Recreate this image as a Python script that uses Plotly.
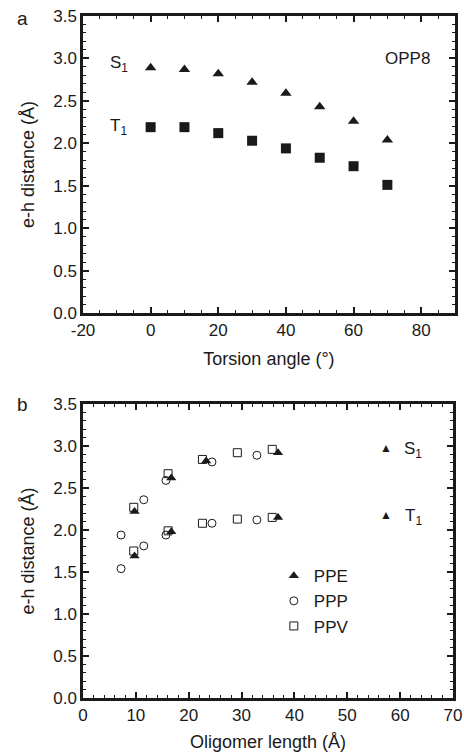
import plotly.graph_objects as go

# ---- Panel a data (OPP8) ----
torsion = [0, 10, 20, 30, 40, 50, 60, 70]
opp8_s1 = [2.89, 2.87, 2.82, 2.72, 2.59, 2.43, 2.26, 2.04]
opp8_t1 = [2.19, 2.19, 2.12, 2.03, 1.94, 1.83, 1.73, 1.51]
torsion_ticks = [-20, 0, 20, 40, 60, 80]
torsion_ticktext = ["-20", "0", "20", "40", "60", "80"]

# ---- Panel b data ----
ppe_len_s1 = [9.75, 16.7, 23.3, 36.9]
ppe_s1 = [2.22, 2.62, 2.82, 2.92]
ppe_len_t1 = [9.75, 16.7, 36.9]
ppe_t1 = [1.69, 1.98, 2.15]

ppp_len = [7.2, 11.5, 15.7, 24.4, 32.9]
ppp_s1 = [1.94, 2.36, 2.59, 2.81, 2.89]
ppp_t1 = [1.54, 1.81, 1.94, 2.08, 2.12]

ppv_len = [9.6, 16.1, 22.6, 29.2, 35.8]
ppv_s1 = [2.27, 2.67, 2.84, 2.92, 2.96]
ppv_t1 = [1.75, 1.99, 2.08, 2.13, 2.15]

FONT = "Liberation Sans, Arial, Helvetica, sans-serif"
INK = "#1a1a1a"

fig = go.Figure()

# Panel a
fig.add_trace(go.Scatter(x=torsion, y=opp8_s1, mode="markers", xaxis="x", yaxis="y",
                         marker=dict(symbol="triangle-up", size=10, color=INK),
                         showlegend=False))
fig.add_trace(go.Scatter(x=torsion, y=opp8_t1, mode="markers", xaxis="x", yaxis="y",
                         marker=dict(symbol="square", size=10, color=INK),
                         showlegend=False))

# Panel b
open_line = dict(color=INK, width=1)
fig.add_trace(go.Scatter(x=ppv_len, y=ppv_s1, mode="markers", xaxis="x2", yaxis="y2",
                         marker=dict(symbol="square-open", size=8, color=INK, line=open_line),
                         showlegend=False, legendgroup="PPV"))
fig.add_trace(go.Scatter(x=ppv_len, y=ppv_t1, mode="markers", xaxis="x2", yaxis="y2",
                         marker=dict(symbol="square-open", size=8, color=INK, line=open_line),
                         showlegend=False, legendgroup="PPV"))
fig.add_trace(go.Scatter(x=ppp_len, y=ppp_s1, mode="markers", xaxis="x2", yaxis="y2",
                         marker=dict(symbol="circle-open", size=8, color=INK, line=open_line),
                         showlegend=False, legendgroup="PPP"))
fig.add_trace(go.Scatter(x=ppp_len, y=ppp_t1, mode="markers", xaxis="x2", yaxis="y2",
                         marker=dict(symbol="circle-open", size=8, color=INK, line=open_line),
                         showlegend=False, legendgroup="PPP"))
fig.add_trace(go.Scatter(x=ppe_len_s1, y=ppe_s1, mode="markers", xaxis="x2", yaxis="y2",
                         marker=dict(symbol="triangle-up", size=9, color=INK),
                         name="PPE", legendgroup="PPE", legendrank=1))
fig.add_trace(go.Scatter(x=ppe_len_t1, y=ppe_t1, mode="markers", xaxis="x2", yaxis="y2",
                         marker=dict(symbol="triangle-up", size=9, color=INK),
                         showlegend=False, legendgroup="PPE"))
fig.add_trace(go.Scatter(x=[None], y=[None], mode="markers", xaxis="x2", yaxis="y2",
                         marker=dict(symbol="circle-open", size=8, color=INK, line=open_line),
                         name="PPP", legendgroup="PPP", legendrank=2))
fig.add_trace(go.Scatter(x=[None], y=[None], mode="markers", xaxis="x2", yaxis="y2",
                         marker=dict(symbol="square-open", size=8, color=INK, line=open_line),
                         name="PPV", legendgroup="PPV", legendrank=3))

minor_common = dict(ticks="inside", ticklen=3, tickcolor=INK, tickwidth=1)
axis_common = dict(
    showline=True, linewidth=2.5, linecolor=INK, mirror="allticks",
    ticks="inside", ticklen=6, tickwidth=1.5, tickcolor=INK,
    showgrid=False, zeroline=False, automargin=False,
    tickfont=dict(family=FONT, size=17, color=INK),
    title_font=dict(family=FONT, size=18, color=INK),
)

W, H = 464, 752
pl, pr, pt, pb = 83, 9, 16, 54

fig.update_layout(
    width=W, height=H,
    margin=dict(l=pl, r=pr, t=pt, b=pb, autoexpand=False),
    paper_bgcolor="white", plot_bgcolor="white",
    font=dict(family=FONT, color=INK),
    xaxis=dict(domain=[0, 1], anchor="y", range=[-20, 90],
               tickmode="array", tickvals=torsion_ticks, ticktext=torsion_ticktext,
               minor=dict(tickmode="linear", tick0=0, dtick=5, **minor_common),
               title=dict(text="Torsion angle (°)", standoff=14), **axis_common),
    yaxis=dict(domain=[0.5645, 1], anchor="x", range=[0, 3.5], dtick=0.5, tickformat=".1f",
               minor=dict(dtick=0.1, **minor_common),
               title=dict(text="e-h distance (Å)", standoff=14), **axis_common),
    xaxis2=dict(domain=[0, 0.9946], anchor="y2", range=[0, 70], dtick=10,
                minor=dict(dtick=2, **minor_common),
                title=dict(text="Oligomer length (Å)", standoff=14), **axis_common),
    yaxis2=dict(domain=[0, 0.4311], anchor="x2", range=[0, 3.5], dtick=0.5, tickformat=".1f",
                minor=dict(dtick=0.1, **minor_common),
                title=dict(text="e-h distance (Å)", standoff=14), **axis_common),
    legend=dict(x=0.513, y=0.205, xanchor="left", yanchor="top", bgcolor="rgba(0,0,0,0)",
                font=dict(family=FONT, size=17, color=INK), itemwidth=30,
                tracegroupgap=0),
)

pw, ph = W - pl - pr, H - pt - pb
def px(xp):
    return (xp - pl) / pw
def py(yp):
    return (H - pb - yp) / ph

ann = []
c = dict(showarrow=False, xanchor="center", yanchor="middle")
lab = dict(family=FONT, size=19, color=INK)
ann.append(dict(text="a", x=px(22), y=py(19), xref="paper", yref="paper", font=lab, **c))
ann.append(dict(text="b", x=px(22), y=py(405), xref="paper", yref="paper", font=lab, **c))
txt = dict(family=FONT, size=17, color=INK)
ann.append(dict(text="OPP8", x=76, y=3.0, xref="x", yref="y", font=txt, **c))
ann.append(dict(text="S<sub>1</sub>", x=-9.5, y=2.93, xref="x", yref="y", font=txt, **c))
ann.append(dict(text="T<sub>1</sub>", x=-9.5, y=2.19, xref="x", yref="y", font=txt, **c))
tri = dict(family=FONT, size=12, color=INK)
ann.append(dict(text="▲", x=57.3, y=2.98, xref="x2", yref="y2", font=tri, **c))
ann.append(dict(text="▲", x=57.3, y=2.18, xref="x2", yref="y2", font=tri, **c))
ann.append(dict(text="S<sub>1</sub>", x=62.5, y=2.95, xref="x2", yref="y2", font=txt, **c))
ann.append(dict(text="T<sub>1</sub>", x=62.5, y=2.15, xref="x2", yref="y2", font=txt, **c))
fig.update_layout(annotations=ann)

fig.write_html("out.html", config={"displayModeBar": False},
               post_script="document.body.style.margin='0';document.body.style.overflow='hidden';")
